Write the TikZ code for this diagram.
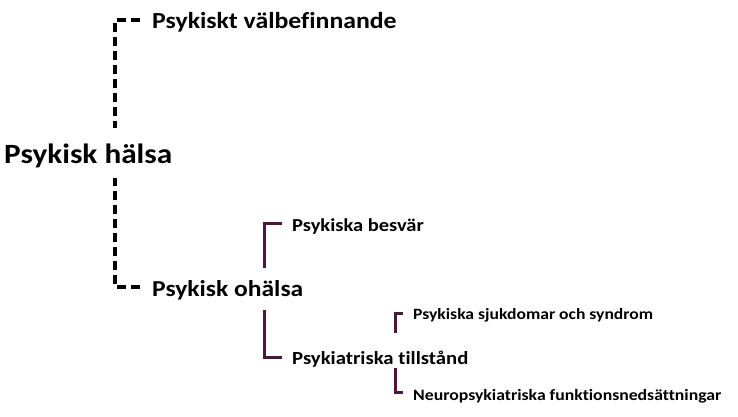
\documentclass[tikz,border=0pt]{standalone}
\usepackage{fontspec}
\setmainfont{Carlito}[Ligatures=NoCommon]
\definecolor{vinrod}{RGB}{74,24,56}
\newcommand{\vidga}[1]{\scalebox{1.12}[1]{#1}}
\begin{document}
\begin{tikzpicture}[x=1pt, y=-1pt, line cap=butt, line join=miter,
		text node/.style={anchor=base west, inner sep=0pt, font=\bfseries},
		streckad/.style={line width=3.5pt, dash pattern=on 9pt off 5pt},
		klammer/.style={draw=vinrod, line width=3pt}]
				\useasboundingbox (0,0) rectangle (738,416);
				\path
				(115,128) coordinate (D1)
				(140,20) coordinate (D2)
				(115,178) coordinate (D3)
				(140,287) coordinate (D4)
				(264,268) coordinate (K1)
				(282,223) coordinate (K2)
				(264,310) coordinate (K3)
				(282,357) coordinate (K4)
				(395,333) coordinate (S1)
				(403,313) coordinate (S2)
				(395,368) coordinate (S3)
				(403,392) coordinate (S4)
				;
				\node[text node, font=\bfseries\fontsize{27.9}{32}\selectfont] (halsa) at (4,163) {\vidga{Psykisk hälsa}};
				\node[text node, font=\bfseries\fontsize{23}{27}\selectfont] (valbe) at (152,28) {\vidga{Psykiskt välbefinnande}};
				\node[text node, font=\bfseries\fontsize{22.8}{27}\selectfont] (ohalsa) at (152,296) {\vidga{Psykisk ohälsa}};
				\node[text node, font=\bfseries\fontsize{18.3}{22}\selectfont] (besvar) at (292,231) {\vidga{Psykiska besvär}};
				\node[text node, font=\bfseries\fontsize{18.5}{22}\selectfont] (tillst) at (292,364) {\vidga{Psykiatriska tillstånd}};
				\node[text node, font=\bfseries\fontsize{15.7}{19}\selectfont] (sjukd) at (413,319) {\vidga{Psykiska sjukdomar och syndrom}};
				\node[text node, font=\bfseries\fontsize{15.8}{19}\selectfont] (neuro) at (413,400) {\vidga{Neuropsykiatriska funktionsnedsättningar}};
				\draw[streckad] (D2) -| (D1);
				\draw[streckad] (D4) -| (D3);
				\foreach \a/\b in {K1/K2,K3/K4,S1/S2,S3/S4}{
					\draw[klammer] (\a) |- (\b);}
		\end{tikzpicture}
\end{document}
